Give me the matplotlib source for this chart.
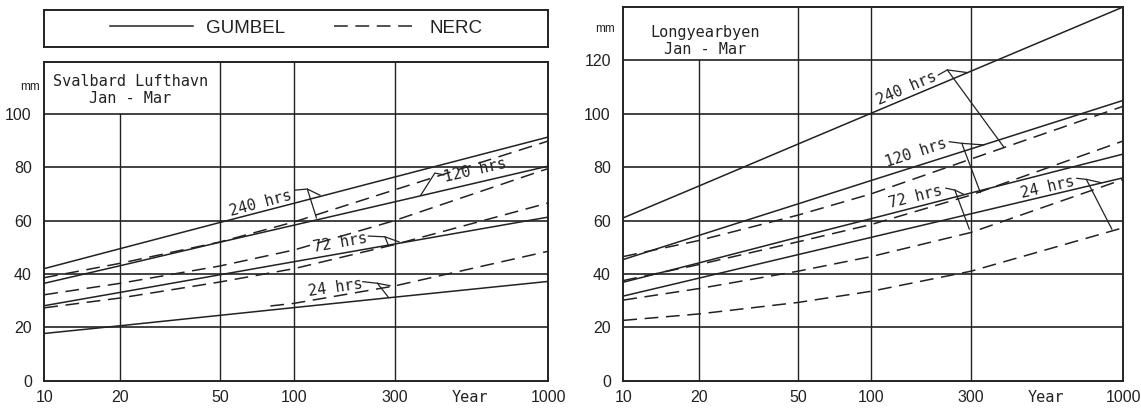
import matplotlib
matplotlib.use("Agg")
import matplotlib.pyplot as plt
import matplotlib.transforms as mtransforms
import numpy as np
from matplotlib.lines import Line2D

INK = "#222222"
MONO = "DejaVu Sans Mono"
SANS = "Liberation Sans"

# return periods (years) where the chart has its grid lines
years = [10, 20, 50, 100, 300, 1000]
# where each of those grid lines sits across the axis (probability paper)
grid_pos = [0.0, 0.151, 0.349, 0.496, 0.695, 1.0]

# Svalbard Lufthavn, Jan - Mar  (mm)
sv_gumbel_240 = [42.0, 49.5, 59.3, 66.5, 76.3, 91.3]
sv_gumbel_120 = [36.5, 43.1, 51.9, 58.3, 67.0, 80.4]
sv_gumbel_72 = [28.1, 33.1, 39.7, 44.6, 51.2, 61.3]
sv_gumbel_24 = [17.7, 20.6, 24.5, 27.4, 31.3, 37.2]
sv_nerc_240 = [38.6, 44.0, 52.0, 59.5, 71.5, 89.8]
sv_nerc_120 = [32.2, 36.5, 43.0, 49.0, 60.0, 79.5]
sv_nerc_72 = [27.3, 31.0, 37.0, 42.0, 51.0, 66.6]
sv_nerc_24_years = [80, 100, 300, 1000]
sv_nerc_24 = [28.0, 29.0, 35.5, 48.5]

# Longyearbyen, Jan - Mar  (mm)
ly_gumbel_240 = [61.0, 72.9, 88.6, 100.2, 115.9, 140.0]
ly_gumbel_120 = [45.4, 54.4, 66.2, 75.0, 86.8, 105.0]
ly_gumbel_72 = [36.9, 44.1, 53.7, 60.7, 70.3, 84.9]
ly_gumbel_24 = [31.7, 38.4, 47.2, 53.7, 62.5, 76.0]
ly_nerc_240 = [46.5, 52.5, 62.0, 70.0, 83.0, 102.8]
ly_nerc_120 = [37.5, 43.5, 52.0, 58.5, 69.5, 89.8]
ly_nerc_72 = [30.2, 34.5, 41.0, 46.5, 55.5, 75.4]
ly_nerc_24 = [22.6, 25.0, 29.3, 33.5, 41.0, 57.3]

# x axis of the original: piecewise in log10(T) through the grid lines
_lg = np.log10(years)
_lg_ext = np.concatenate([[0.0], _lg, [4.0]])
_u_ext = np.concatenate([[-0.502], grid_pos, [1.583]])


def fwd(t):
    t = np.clip(np.asarray(t, dtype=float), 1e-6, None)
    return np.interp(np.log10(t), _lg_ext, _u_ext)


def inv(u):
    return 10 ** np.interp(np.asarray(u, dtype=float), _u_ext, _lg_ext)


def setup_axes(ax, ymax, yticks, top_cut):
    ax.set_xscale("function", functions=(fwd, inv))
    ax.set_xlim(10, 1000)
    ax.set_ylim(0, ymax)
    ax.set_xticks(years)
    ax.set_xticklabels([str(y) for y in years])
    ax.set_yticks(yticks)
    ax.set_yticklabels([str(y) for y in yticks])
    ax.minorticks_off()
    ax.tick_params(axis="both", length=0, labelsize=11.5, colors=INK)
    ax.tick_params(axis="x", pad=7)
    ax.tick_params(axis="y", pad=9)
    for lab in ax.get_xticklabels() + ax.get_yticklabels():
        lab.set_family(SANS)
    for sp in ax.spines.values():
        sp.set_color(INK)
        sp.set_linewidth(1.4)
    for y in yticks[1:]:
        ax.axhline(y, color=INK, lw=1.2, zorder=1)
    for t in years[1:-1]:
        top = top_cut / ymax if t == 20 else 1.0
        ax.axvline(t, ymin=0, ymax=top, color=INK, lw=1.0, zorder=1)
    ax.annotate("Year", xy=(0.845, 0), xycoords="axes fraction",
                xytext=(0, -7), textcoords="offset points", ha="center",
                va="top", fontsize=11, family=MONO, color=INK)


def draw_pair(ax, g, n, n_years=None):
    ax.plot(years, g, color=INK, lw=1.1, zorder=3)
    ax.plot(n_years or years, n, color=INK, lw=1.1, dashes=(9, 5), zorder=3)


def label(ax, text, u, y, rot, legs):
    tr = mtransforms.blended_transform_factory(ax.transAxes, ax.transData)
    ax.text(u, y, text, transform=tr, rotation=rot, rotation_mode="anchor",
            ha="center", va="center", fontsize=11, family=MONO, color=INK)
    for leg in legs:
        xs, ys = zip(*leg)
        ax.plot(xs, ys, transform=tr, color=INK, lw=0.9, zorder=4)


fig = plt.figure(figsize=(11.41, 4.08), dpi=100)
ax1 = fig.add_axes([0.0388, 0.0669, 0.4417, 0.7811])
ax2 = fig.add_axes([0.5463, 0.0669, 0.4382, 0.9162])
lax = fig.add_axes([0.0388, 0.8848, 0.4417, 0.0919])

# left panel
setup_axes(ax1, 119.4, [0, 20, 40, 60, 80, 100], 100)
draw_pair(ax1, sv_gumbel_240, sv_nerc_240)
draw_pair(ax1, sv_gumbel_120, sv_nerc_120)
draw_pair(ax1, sv_gumbel_72, sv_nerc_72)
draw_pair(ax1, sv_gumbel_24, sv_nerc_24, sv_nerc_24_years)
tr1 = mtransforms.blended_transform_factory(ax1.transAxes, ax1.transData)
ax1.text(0.171, 109, "Svalbard Lufthavn\nJan - Mar", ha="center", va="center",
         transform=tr1, fontsize=11, family=MONO, color=INK,
         multialignment="center")
ax1.text(-0.028, 110, "mm", transform=tr1, ha="center", va="center",
         fontsize=8.5, family=SANS, color=INK)
label(ax1, "240 hrs", 0.430, 66.5, 15,
      [[(0.497, 71.4), (0.522, 71.8), (0.547, 69.5)], [(0.522, 71.8), (0.540, 61.0)]])
label(ax1, "120 hrs", 0.854, 78.9, 13,
      [[(0.793, 77.1), (0.775, 77.8), (0.747, 69.5)]])
label(ax1, "72 hrs", 0.588, 51.5, 10,
      [[(0.643, 54.2), (0.676, 53.9), (0.704, 52.0)], [(0.676, 53.9), (0.683, 50.6)]])
label(ax1, "24 hrs", 0.577, 35.0, 8,
      [[(0.632, 37.1), (0.661, 36.5), (0.686, 35.6)], [(0.661, 36.5), (0.683, 31.2)]])

# right panel
setup_axes(ax2, 140, [0, 20, 40, 60, 80, 100, 120], 120)
draw_pair(ax2, ly_gumbel_240, ly_nerc_240)
draw_pair(ax2, ly_gumbel_120, ly_nerc_120)
draw_pair(ax2, ly_gumbel_72, ly_nerc_72)
draw_pair(ax2, ly_gumbel_24, ly_nerc_24)
tr2 = mtransforms.blended_transform_factory(ax2.transAxes, ax2.transData)
ax2.text(0.164, 127.2, "Longyearbyen\nJan - Mar", ha="center", va="center",
         transform=tr2, fontsize=11, family=MONO, color=INK,
         multialignment="center")
ax2.text(-0.037, 131.6, "mm", transform=tr2, ha="center", va="center",
         fontsize=8.5, family=SANS, color=INK)
label(ax2, "240 hrs", 0.566, 109.5, 23,
      [[(0.630, 114.5), (0.648, 116.4), (0.688, 115.4)], [(0.648, 116.4), (0.761, 87.5)]])
label(ax2, "120 hrs", 0.586, 85.2, 18,
      [[(0.652, 89.5), (0.677, 88.9), (0.721, 88.3)], [(0.677, 88.9), (0.714, 70.5)]])
label(ax2, "72 hrs", 0.585, 68.7, 14,
      [[(0.645, 72.1), (0.663, 71.4), (0.681, 69.8)], [(0.663, 71.4), (0.692, 56.8)]])
label(ax2, "24 hrs", 0.849, 72.4, 13,
      [[(0.907, 75.8), (0.926, 75.4), (0.955, 74.2)], [(0.926, 75.4), (0.977, 56.8)]])

# legend box
lax.set_xticks([])
lax.set_yticks([])
for sp in lax.spines.values():
    sp.set_color(INK)
    sp.set_linewidth(1.4)
handles = [Line2D([], [], color=INK, lw=1.1),
           Line2D([], [], color=INK, lw=1.1, dashes=(9, 5))]
leg = lax.legend(handles, ["GUMBEL", "NERC"], loc="center", ncol=2, frameon=False,
                 handlelength=4.4, handletextpad=0.7, columnspacing=2.6,
                 prop={"family": SANS, "size": 13.5})
for t in leg.get_texts():
    t.set_color(INK)

fig.savefig("out.png", dpi=100, facecolor="white")
